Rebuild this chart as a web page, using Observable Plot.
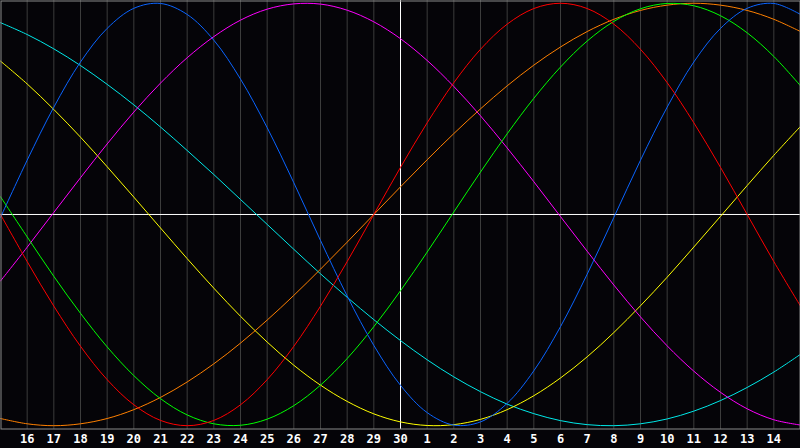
<!DOCTYPE html>
<html>
<head>
<meta charset="utf-8">
<script src="https://cdn.jsdelivr.net/npm/d3@7"></script>
<script src="https://cdn.jsdelivr.net/npm/@observablehq/plot@0.6"></script>
<style>
  html, body { margin: 0; padding: 0; background: #050408; }
  #chart { width: 800px; height: 448px; overflow: hidden; }
</style>
</head>
<body>
<div id="chart"></div>
<script>
// Day index 0..30 (index 0 = day 15 of previous month, index 15 = day 30)
const dayIndex = [0,1,2,3,4,5,6,7,8,9,10,11,12,13,14,15,16,17,18,19,20,21,22,23,24,25,26,27,28,29,30];
const tickIndex = [1,2,3,4,5,6,7,8,9,10,11,12,13,14,15,16,17,18,19,20,21,22,23,24,25,26,27,28,29];
const dayLabels = ["16","17","18","19","20","21","22","23","24","25","26","27","28","29","30","1","2","3","4","5","6","7","8","9","10","11","12","13","14"];

// Series values (-1 .. 1), one per day index
const physical     = [-0.014,0.257,0.508,0.722,0.881,0.976,0.999,0.947,0.825,0.641,0.411,0.150,-0.123,-0.386,-0.620,-0.809,-0.938,-0.997,-0.982,-0.894,-0.740,-0.531,-0.283,-0.014,0.257,0.508,0.722,0.881,0.976,0.999,0.947];
const emotional    = [0,-0.223,-0.434,-0.624,-0.782,-0.901,-0.975,-1.000,-0.975,-0.901,-0.782,-0.624,-0.434,-0.223,0,0.223,0.434,0.624,0.782,0.901,0.975,1.000,0.975,0.901,0.782,0.624,0.434,0.223,0,-0.223,-0.434];
const intellectual = [0.084,-0.106,-0.293,-0.468,-0.627,-0.763,-0.872,-0.949,-0.991,-0.998,-0.969,-0.905,-0.808,-0.682,-0.531,-0.361,-0.178,0.012,0.201,0.382,0.550,0.698,0.821,0.914,0.974,0.999,0.988,0.941,0.860,0.748,0.609];
const intuitive    = [-0.315,-0.155,0.010,0.174,0.334,0.485,0.622,0.742,0.842,0.920,0.972,0.997,0.996,0.967,0.912,0.832,0.729,0.606,0.467,0.315,0.155,-0.010,-0.174,-0.334,-0.485,-0.622,-0.742,-0.842,-0.920,-0.972,-0.997];
const aesthetic    = [0.726,0.618,0.497,0.366,0.226,0.082,-0.064,-0.209,-0.349,-0.482,-0.604,-0.714,-0.808,-0.885,-0.944,-0.982,-0.999,-0.995,-0.970,-0.924,-0.858,-0.774,-0.674,-0.559,-0.432,-0.297,-0.154,-0.009,0.137,0.280,0.417];
const awareness    = [-0.966,-0.991,-1.000,-0.991,-0.966,-0.924,-0.866,-0.793,-0.707,-0.609,-0.500,-0.383,-0.259,-0.131,0,0.131,0.259,0.383,0.500,0.609,0.707,0.793,0.866,0.924,0.966,0.991,1.000,0.991,0.966,0.924,0.866];
const spiritual    = [0.908,0.852,0.784,0.705,0.616,0.519,0.414,0.303,0.189,0.071,-0.047,-0.165,-0.281,-0.392,-0.498,-0.597,-0.688,-0.769,-0.839,-0.898,-0.943,-0.976,-0.995,-1.000,-0.991,-0.968,-0.931,-0.881,-0.819,-0.746,-0.662];

const seriesNames  = ["spiritual","aesthetic","intuitive","awareness","intellectual","physical","emotional"];
const seriesValues = [spiritual, aesthetic, intuitive, awareness, intellectual, physical, emotional];
const seriesColors = ["#00e8e8","#ffff00","#ff00ff","#ff8000","#00ff00","#0a64ff","#ff0000"];

const rows = seriesNames.flatMap((name, k) =>
  seriesValues[k].map((v, j) => ({day: dayIndex[j], value: v, series: name}))
);

const gridIndex = tickIndex.filter(d => d !== 15);

const chart = Plot.plot({
  width: 800,
  height: 448,
  marginLeft: 0,
  marginRight: 0,
  marginTop: 0,
  marginBottom: 19,
  style: {background: "#050408", overflow: "visible"},
  x: {domain: [0, 30]},
  y: {domain: [-1.018, 1.013], axis: null},
  color: {domain: seriesNames, range: seriesColors},
  marks: [
    Plot.ruleX(gridIndex, {stroke: "#3c3c3c", strokeWidth: 1}),
    Plot.ruleX([15], {stroke: "#ffffff", strokeWidth: 1}),
    Plot.ruleY([0], {stroke: "#ffffff", strokeWidth: 1}),
    Plot.line(rows, {x: "day", y: "value", z: "series", stroke: "series", strokeWidth: 1, curve: "catmull-rom"}),
    Plot.frame({stroke: "#8a8a8a", strokeWidth: 1, inset: 0.5}),
    Plot.axisX({
      ticks: tickIndex,
      tickFormat: d => dayLabels[d - 1],
      tickSize: 0,
      tickPadding: 5,
      fill: "#ffffff",
      fontSize: 12,
      fontWeight: "bold",
      fontFamily: "DejaVu Sans Mono",
      label: null
    })
  ]
});

document.getElementById("chart").appendChild(chart);
</script>
</body>
</html>
